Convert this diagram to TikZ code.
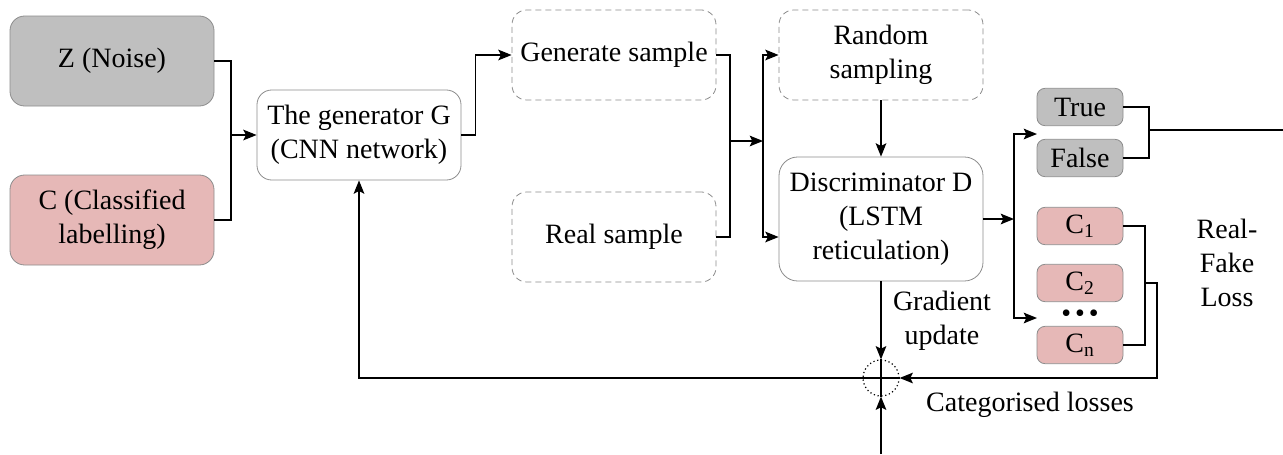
\documentclass[tikz,border=0pt]{standalone}
\usepackage{fontspec}
\setmainfont{Liberation Serif}
\newfontfamily\diagfont{Liberation Serif}
\usetikzlibrary{arrows.meta,calc}
\definecolor{boxgray}{HTML}{BFBFBF}
\definecolor{boxpink}{HTML}{E6B8B7}
\definecolor{edgegray}{HTML}{8C8C8C}
\begin{document}
\begin{tikzpicture}[x=0.75pt,y=-0.75pt,
  every node/.style={font=\diagfont\fontsize{21}{25.5}\selectfont, align=center, inner sep=0pt},
  block/.style={draw=edgegray, line width=0.6pt, rounded corners=11pt,
                minimum width=153pt, minimum height=67.5pt},
  graybox/.style={block, fill=boxgray},
  pinkbox/.style={block, fill=boxpink},
  plainbox/.style={block, fill=white},
  dashbox/.style={block, fill=white, dash pattern=on 4.5pt off 3pt},
  small/.style={draw=edgegray, line width=0.6pt, rounded corners=6pt,
                minimum width=64.5pt, minimum height=28pt},
  smallgray/.style={small, fill=boxgray},
  smallpink/.style={small, fill=boxpink},
  conn/.style={line width=1.1pt, black},
  arr/.style={conn, -{Stealth[length=10pt,width=8pt,inset=2pt]}}
]
\useasboundingbox (0,0) rectangle (1283,454);

% input blocks
\node[graybox] (Z) at (112,61) {Z (Noise)};
\node[pinkbox] (C) at (112,220) {C (Classified\\labelling)};

% generator
\node[plainbox] (G) at (359,135) {The generator G\\(CNN network)};

% samples
\node[dashbox] (Gen) at (614,55) {Generate sample};
\node[dashbox] (Real) at (614,237) {Real sample};
\node[dashbox] (Rand) at (881,55) {Random\\sampling};

% discriminator
\node[plainbox, minimum height=93pt, rounded corners=14pt] (Disc) at (881,219)
  {Discriminator D\\(LSTM\\reticulation)};

% outputs
\node[smallgray] (True) at (1080,107) {True};
\node[smallgray] (False) at (1080,158) {False};
\node[smallpink] (C1) at (1080,226) {C\textsubscript{1}};
\node[smallpink] (C2) at (1080,283) {C\textsubscript{2}};
\node[smallpink] (Cn) at (1080,345) {C\textsubscript{n}};
\node (dots) at (1080,316) {\textbullet\hspace{3pt}\textbullet\hspace{3pt}\textbullet};

% summing junction
\node[draw, circle, dotted, line width=0.9pt, minimum size=27pt] (sum) at (881,378) {};

% labels
\node (grad) at (942,321) {Gradient\\update};
\node (cat) at (1030,405) {Categorised losses};
\node (rfl) at (1227,263) {Real-\\Fake\\Loss};

% junction points
\coordinate (j1) at (231,135);
\coordinate (j2) at (730,141);
\coordinate (j3) at (763,141);
\coordinate (j4) at (1014,219);
\coordinate (tf) at (1037,134);
\coordinate (dd) at (1037,318);
\coordinate (j5) at (1149,130);
\coordinate (rf) at (1283,130);
\coordinate (j6) at (1145,283);
\coordinate (j7) at (1157,283);
\coordinate (bot) at (881,454);

% connectors
\draw[conn] (Z.east) -| (j1) |- (C.east);
\draw[arr] (j1) -- (G.west);
\draw[arr] (G.east) -- ++(14,0) |- (Gen.west);
\draw[conn] (Gen.east) -| (j2) |- (Real.east);
\draw[arr] (j2) -- (j3);
\draw[arr] (j3) |- (Rand.west);
\draw[arr] (j3) |- (Disc.west |- Real.east);
\draw[arr] (Rand) -- (Disc);
\draw[arr] (Disc.east) -- (j4);
\draw[arr] (j4) |- (tf);
\draw[arr] (j4) |- (dd);
\draw[conn] (True.east) -| (j5) |- (False.east);
\draw[conn] (j5) -- (rf);
\draw[conn] (C1.east) -| (j6) |- (Cn.east);
\draw[arr] (j6) -- (j7) |- (sum.east);
\draw[arr] (Disc.south) -- (sum.north);
\draw[arr] (bot) -- (sum.south);
\draw[conn] (sum.north) -- (sum.south);
\draw[conn] (sum.center) -- (sum.east);
\draw[arr] (sum.center) -| (G.south);
\end{tikzpicture}
\end{document}
